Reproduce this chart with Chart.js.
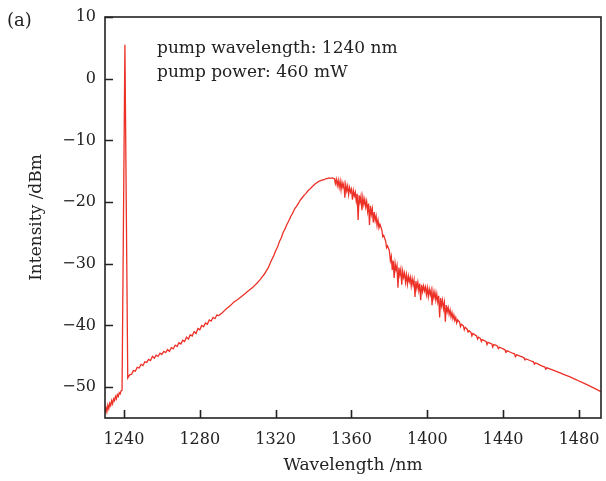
<!DOCTYPE html>
<html>
<head>
<meta charset="utf-8">
<script src="https://cdn.jsdelivr.net/npm/chart.js@4.4.1/dist/chart.umd.min.js"></script>
<style>
  html, body { margin: 0; padding: 0; background: #ffffff; }
  #wrap { width: 606px; height: 481px; position: relative; }
</style>
</head>
<body>
<div id="wrap"><canvas id="c" width="606" height="481"></canvas></div>
<script>
// ---- Data ----
const xTickValues = [1240, 1280, 1320, 1360, 1400, 1440, 1480];
const yTickValues = [-50, -40, -30, -20, -10, 0, 10];
const annotationLines = ['pump wavelength: 1240 nm', 'pump power: 460 mW'];
const panelLabel = '(a)';

// Main spectrum trace (upper envelope, incl. pump line)
const envelopeWavelength = [
  1230,1230.5,1231,1231.5,1232,1232.5,1233,1233.5,1234,1234.5,
  1235,1235.5,1236,1236.5,1237,1237.5,1238,1238.5,1239,1239.5,
  1240,1240.5,1241,1241.5,1242,1243,1244,1245,1246,1247,
  1248,1249,1250,1251,1252,1253,1254,1255,1256,1257,
  1258,1259,1260,1261,1262,1263,1264,1265,1266,1267,
  1268,1269,1270,1271,1272,1273,1274,1275,1276,1277,
  1278,1279,1280,1281,1282,1283,1284,1285,1286,1287,
  1288,1289,1290,1292,1294,1296,1298,1300,1302,1304,
  1306,1308,1310,1312,1314,1316,1317,1318,1319,1320,
  1321,1322,1323,1324,1325,1326,1327,1328,1329,1330,
  1331,1332,1333,1334,1335,1336,1337,1338,1339,1340,
  1341,1342,1343,1344,1345,1346,1347,1348,1349,1350,
  1351,1352,1353,1354,1355,1356,1357,1358,1359,1360,
  1361,1362,1363,1364,1365,1366,1367,1368,1369,1370,
  1371,1372,1373,1374,1375,1376,1377,1378,1379,1380,
  1381,1382,1383,1384,1385,1386,1387,1388,1389,1390,
  1391,1392,1393,1394,1395,1396,1397,1398,1399,1400,
  1401,1402,1403,1404,1405,1406,1407,1408,1409,1410,
  1411,1412,1413,1414,1415,1416,1417,1418,1419,1420,
  1421,1422,1423,1424,1425,1426,1427,1428,1429,1430,
  1431,1432,1434,1435,1436,1437,1438,1440,1441,1442,
  1445,1446,1447,1450,1451,1452,1455,1456,1457,1460,
  1462,1463,1466,1470,1475,1480,1485,1492
];
const envelopeIntensity = [
  -54.2,-53.3,-54.0,-52.9,-53.5,-52.6,-53.0,-52.2,-52.7,-51.9,
  -52.2,-51.5,-51.9,-51.2,-51.5,-50.9,-51.1,-50.6,-50.5,-31.8,
  -13.2,5.5,-12.5,-30.5,-48.5,-48.0,-47.9,-47.3,-47.4,-46.8,
  -46.9,-46.3,-46.5,-45.9,-46.0,-45.5,-45.7,-45.0,-45.3,-44.8,
  -45.0,-44.5,-44.7,-44.2,-44.4,-43.9,-44.2,-43.6,-43.8,-43.2,
  -43.4,-42.8,-43.0,-42.4,-42.6,-41.9,-42.2,-41.5,-41.7,-41.0,
  -41.3,-40.5,-40.7,-40.0,-40.2,-39.6,-39.8,-39.1,-39.3,-38.7,
  -38.9,-38.3,-38.4,-37.9,-37.3,-36.8,-36.2,-35.8,-35.3,-34.8,
  -34.3,-33.8,-33.2,-32.5,-31.7,-30.7,-30.0,-29.3,-28.7,-27.9,
  -27.3,-26.4,-25.8,-24.9,-24.3,-23.6,-23.0,-22.3,-21.8,-21.1,
  -20.7,-20.2,-19.7,-19.3,-18.9,-18.6,-18.2,-17.9,-17.6,-17.3,
  -17.0,-16.8,-16.6,-16.5,-16.4,-16.3,-16.2,-16.1,-16.15,-16.1,
  -16.2,-16.3,-16.45,-16.6,-16.8,-17.0,-17.2,-17.4,-17.65,-17.9,
  -18.15,-18.4,-18.65,-18.9,-19.05,-19.2,-19.55,-19.9,-20.25,-20.6,
  -21.1,-21.6,-22.25,-22.9,-23.6,-24.5,-25.4,-26.3,-27.1,-27.9,
  -28.8,-29.5,-29.9,-30.3,-30.6,-30.9,-31.2,-31.5,-31.8,-32.0,
  -32.2,-32.4,-32.6,-32.8,-33.0,-33.2,-33.4,-33.6,-33.75,-33.9,
  -34.1,-34.25,-34.45,-34.6,-34.9,-35.2,-35.55,-35.9,-36.3,-36.7,
  -37.1,-37.5,-37.9,-38.3,-38.7,-39.1,-39.45,-39.8,-40.05,-40.3,
  -40.6,-40.85,-41.1,-41.3,-41.5,-41.7,-41.9,-42.1,-42.3,-42.45,
  -42.6,-42.75,-43.0,-43.1,-43.2,-43.35,-43.5,-43.8,-43.95,-44.1,
  -44.5,-44.6,-44.75,-45.1,-45.25,-45.4,-45.8,-45.9,-46.05,-46.5,
  -46.75,-46.85,-47.2,-47.7,-48.3,-49.0,-49.7,-50.8
];

// Narrow downward spikes (dips) on the trace
const dipWavelength = [
  1351.5,1352.5,1353.5,1354.5,1355.5,1356.5,1357.5,1358.5,1359.5,1360.5,
  1361.5,1362.5,1363.5,1364.5,1365.5,1366.5,1367.5,1368.5,1369.5,1370.5,
  1371.5,1372.5,1373.5,1374.5,1376.5,1378.5,1380.5,1381.5,1382.5,1383.5,
  1384.5,1385.5,1386.5,1387.5,1388.5,1389.5,1390.5,1391.5,1392.5,1393.5,
  1394.5,1395.5,1396.5,1397.5,1398.5,1399.5,1400.5,1401.5,1402.5,1403.5,
  1404.5,1405.5,1406.5,1407.5,1408.5,1409.5,1410.5,1411.5,1412.5,1413.5,
  1414.5,1415.5,1417.5,1419.5,1421.5,1423.5,1426.5,1428.5,1431.5,1434.5,
  1437.5,1441.5,1446.5,1451.5,1456.5,1462.5
];
const dipIntensity = [
  -17.0,-17.3,-17.6,-18.0,-17.6,-19.3,-18.2,-18.8,-18.4,-19.6,
  -19.0,-19.8,-22.9,-20.0,-21.3,-20.4,-20.8,-21.5,-23.7,-22.0,
  -23.3,-23.0,-23.8,-24.2,-25.6,-27.4,-29.5,-31.0,-32.3,-31.0,
  -33.9,-31.8,-33.4,-32.2,-33.0,-33.3,-32.9,-33.6,-33.4,-35.4,
  -34.0,-34.3,-35.9,-34.5,-34.4,-35.0,-35.3,-35.0,-36.7,-35.5,
  -35.9,-36.2,-38.7,-36.8,-37.3,-39.4,-37.8,-38.2,-38.6,-38.9,
  -39.2,-39.6,-40.2,-40.7,-41.1,-41.7,-42.2,-42.6,-43.1,-43.5,
  -43.8,-44.4,-45.1,-45.6,-46.3,-47.1
];

// ---- Styling ----
const FONT = '"DejaVu Serif", "Liberation Serif", serif';
const INK = '#222222';
const RED = 'rgb(236,48,38)';

const points = envelopeWavelength.map((w, i) => ({ x: w, y: envelopeIntensity[i] }))
  .concat(dipWavelength.map((w, i) => ({ x: w, y: dipIntensity[i] })))
  .sort((a, b) => a.x - b.x);

const framePlugin = {
  id: 'frameAndTicks',
  afterDraw(chart) {
    const { ctx, chartArea: a, scales } = chart;
    ctx.save();
    ctx.strokeStyle = INK;
    ctx.lineWidth = 1.6;
    ctx.strokeRect(a.left, a.top, a.right - a.left, a.bottom - a.top);
    ctx.beginPath();
    xTickValues.forEach(v => {
      const px = Math.round(scales.x.getPixelForValue(v)) + 0.5;
      ctx.moveTo(px, a.bottom);
      ctx.lineTo(px, a.bottom - 8);
    });
    yTickValues.forEach(v => {
      const py = Math.round(scales.y.getPixelForValue(v)) + 0.5;
      ctx.moveTo(a.left, py);
      ctx.lineTo(a.left + 8, py);
    });
    ctx.stroke();
    ctx.fillStyle = INK;
    ctx.font = '17px ' + FONT;
    ctx.textAlign = 'left';
    ctx.textBaseline = 'alphabetic';
    ctx.fillText(annotationLines[0], a.left + 52, 53);
    ctx.fillText(annotationLines[1], a.left + 52, 77);
    ctx.font = '18px ' + FONT;
    ctx.fillText(panelLabel, 7, 26);
    ctx.restore();
  }
};

new Chart(document.getElementById('c'), {
  type: 'line',
  data: {
    datasets: [{
      data: points,
      borderColor: RED,
      borderWidth: 1.3,
      pointRadius: 0,
      tension: 0.0001,
      fill: false
    }]
  },
  options: {
    responsive: false,
    animation: false,
    layout: { padding: { left: 0, right: 5, top: 17, bottom: 0 } },
    plugins: { legend: { display: false }, tooltip: { enabled: false } },
    scales: {
      x: {
        type: 'linear',
        min: 1230,
        max: 1491.6,
        afterBuildTicks(s) { s.ticks = xTickValues.map(v => ({ value: v })); },
        afterFit(s) { s.height = 63; s.paddingLeft = 0; s.paddingRight = 0; },
        grid: { display: false, drawTicks: false },
        border: { display: false },
        ticks: {
          color: INK,
          padding: 12,
          maxRotation: 0,
          autoSkip: false,
          font: { family: FONT, size: 16 },
          callback: v => String(v)
        },
        title: {
          display: true,
          text: 'Wavelength /nm',
          color: INK,
          font: { family: FONT, size: 17 },
          padding: { top: 0, bottom: 5 }
        }
      },
      y: {
        type: 'linear',
        min: -55,
        max: 10,
        afterBuildTicks(s) { s.ticks = yTickValues.map(v => ({ value: v })); },
        afterFit(s) { s.width = 105; s.paddingTop = 0; s.paddingBottom = 0; },
        grid: { display: false, drawTicks: false },
        border: { display: false },
        ticks: {
          color: INK,
          padding: 9,
          autoSkip: false,
          font: { family: FONT, size: 16 },
          callback: v => (v < 0 ? '\u2212' + Math.abs(v) : String(v))
        },
        title: {
          display: true,
          text: 'Intensity /dBm',
          color: INK,
          font: { family: FONT, size: 17 },
          padding: { top: 26, bottom: 0 }
        }
      }
    }
  },
  plugins: [framePlugin]
});
</script>
</body>
</html>
